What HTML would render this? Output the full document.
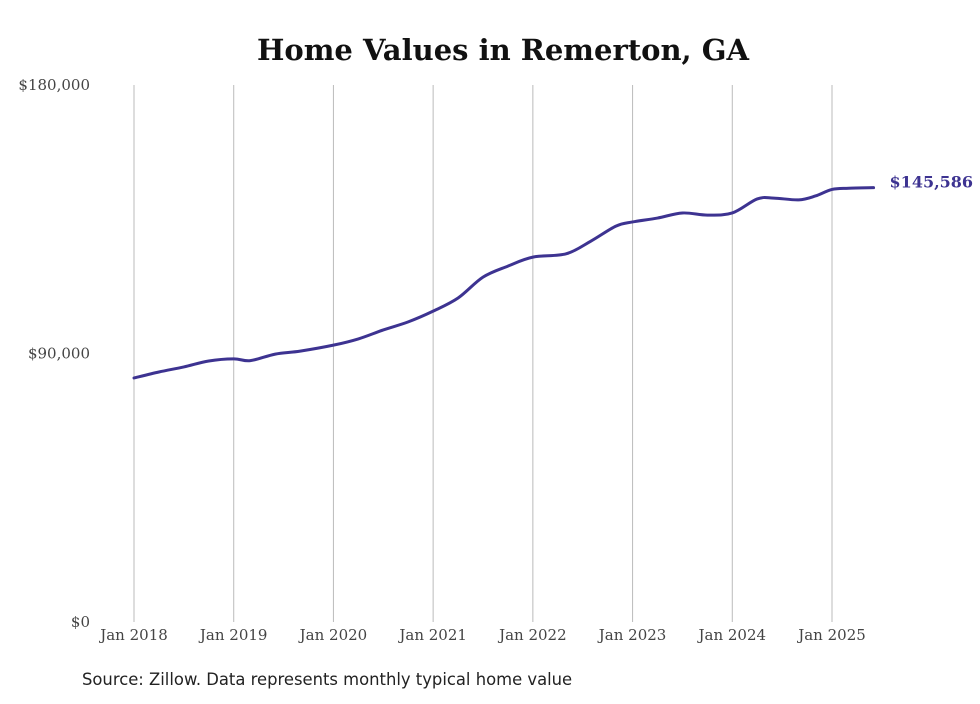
<!DOCTYPE html>
<html><head><meta charset="utf-8"><style>
body{margin:0;background:#fff;width:980px;height:699px;overflow:hidden}
svg text{font-family:"DejaVu Serif","Liberation Serif",serif}
</style></head><body>
<svg width="980" height="699">
<text x="503" y="60" text-anchor="middle" font-size="29" font-weight="bold" fill="#111">Home Values in Remerton, GA</text>
<g id="grid"></g><g id="yt"></g><g id="xt"></g>
<path id="line" fill="none" stroke="#3d3391" stroke-width="3" stroke-linejoin="round" stroke-linecap="round"/>
<text id="endlabel" font-size="16" font-weight="bold" fill="#3d3391"></text>
<text x="82" y="685" font-size="16.4" fill="#222" style="font-family:'DejaVu Sans','Liberation Sans',sans-serif">Source: Zillow. Data represents monthly typical home value</text>
</svg>
<script>
const months=[0,3,6,9,12,14,17,20,24,27,30,33,36,39,42,45,48,52,55,58,60,63,66,69,72,75,77,80,82,84,86,89];
const values=[81800,83800,85500,87500,88200,87600,89800,90800,92800,94900,97900,100600,104200,108600,115600,119300,122300,123400,127700,132700,134100,135400,137100,136400,137100,141800,142100,141500,142800,145000,145400,145586];
const yTicks=[0,90000,180000];
const yLabels=["$0","$90,000","$180,000"];
const xYears=[2018,2019,2020,2021,2022,2023,2024,2025];
const ns="http://www.w3.org/2000/svg";
const x=m=>134+m*(698/84);
const y=v=>622-v/180000*537;
const grid=document.getElementById('grid'),yt=document.getElementById('yt'),xt=document.getElementById('xt');
xYears.forEach((yr,i)=>{
 const l=document.createElementNS(ns,'line');const px=x(i*12);
 l.setAttribute('x1',px);l.setAttribute('x2',px);l.setAttribute('y1',85);l.setAttribute('y2',622);
 l.setAttribute('stroke','#bbb');l.setAttribute('stroke-width','1');
 
 
 grid.appendChild(l);
 const t=document.createElementNS(ns,'text');t.setAttribute('x',px);t.setAttribute('y',640);
 t.setAttribute('text-anchor','middle');t.setAttribute('font-size','15');t.setAttribute('fill','#444');
 t.textContent='Jan '+yr;
 
 
 xt.appendChild(t);
});
yTicks.forEach((v,i)=>{
 const t=document.createElementNS(ns,'text');t.setAttribute('x',90);t.setAttribute('y',y(v)+5);
 t.setAttribute('text-anchor','end');t.setAttribute('font-size','15');t.setAttribute('fill','#444');
 t.textContent=yLabels[i];
 
 
 yt.appendChild(t);
});
const pts=months.map((m,i)=>[x(m),y(values[i])]);
let d='M'+pts[0][0]+','+pts[0][1];
for(let i=0;i<pts.length-1;i++){
 const p0=pts[i-1]||pts[i],p1=pts[i],p2=pts[i+1],p3=pts[i+2]||p2;
 d+=' C'+(p1[0]+(p2[0]-p0[0])/6)+','+(p1[1]+(p2[1]-p0[1])/6)+' '+(p2[0]-(p3[0]-p1[0])/6)+','+(p2[1]-(p3[1]-p1[1])/6)+' '+p2[0]+','+p2[1];
}
document.getElementById('line').setAttribute('d',d);
const last=pts[pts.length-1],el=document.getElementById('endlabel');
el.setAttribute('x',last[0]+16);el.setAttribute('y',last[1]);
el.textContent='$'+values[values.length-1].toLocaleString('en-US');
</script>
</body></html>
